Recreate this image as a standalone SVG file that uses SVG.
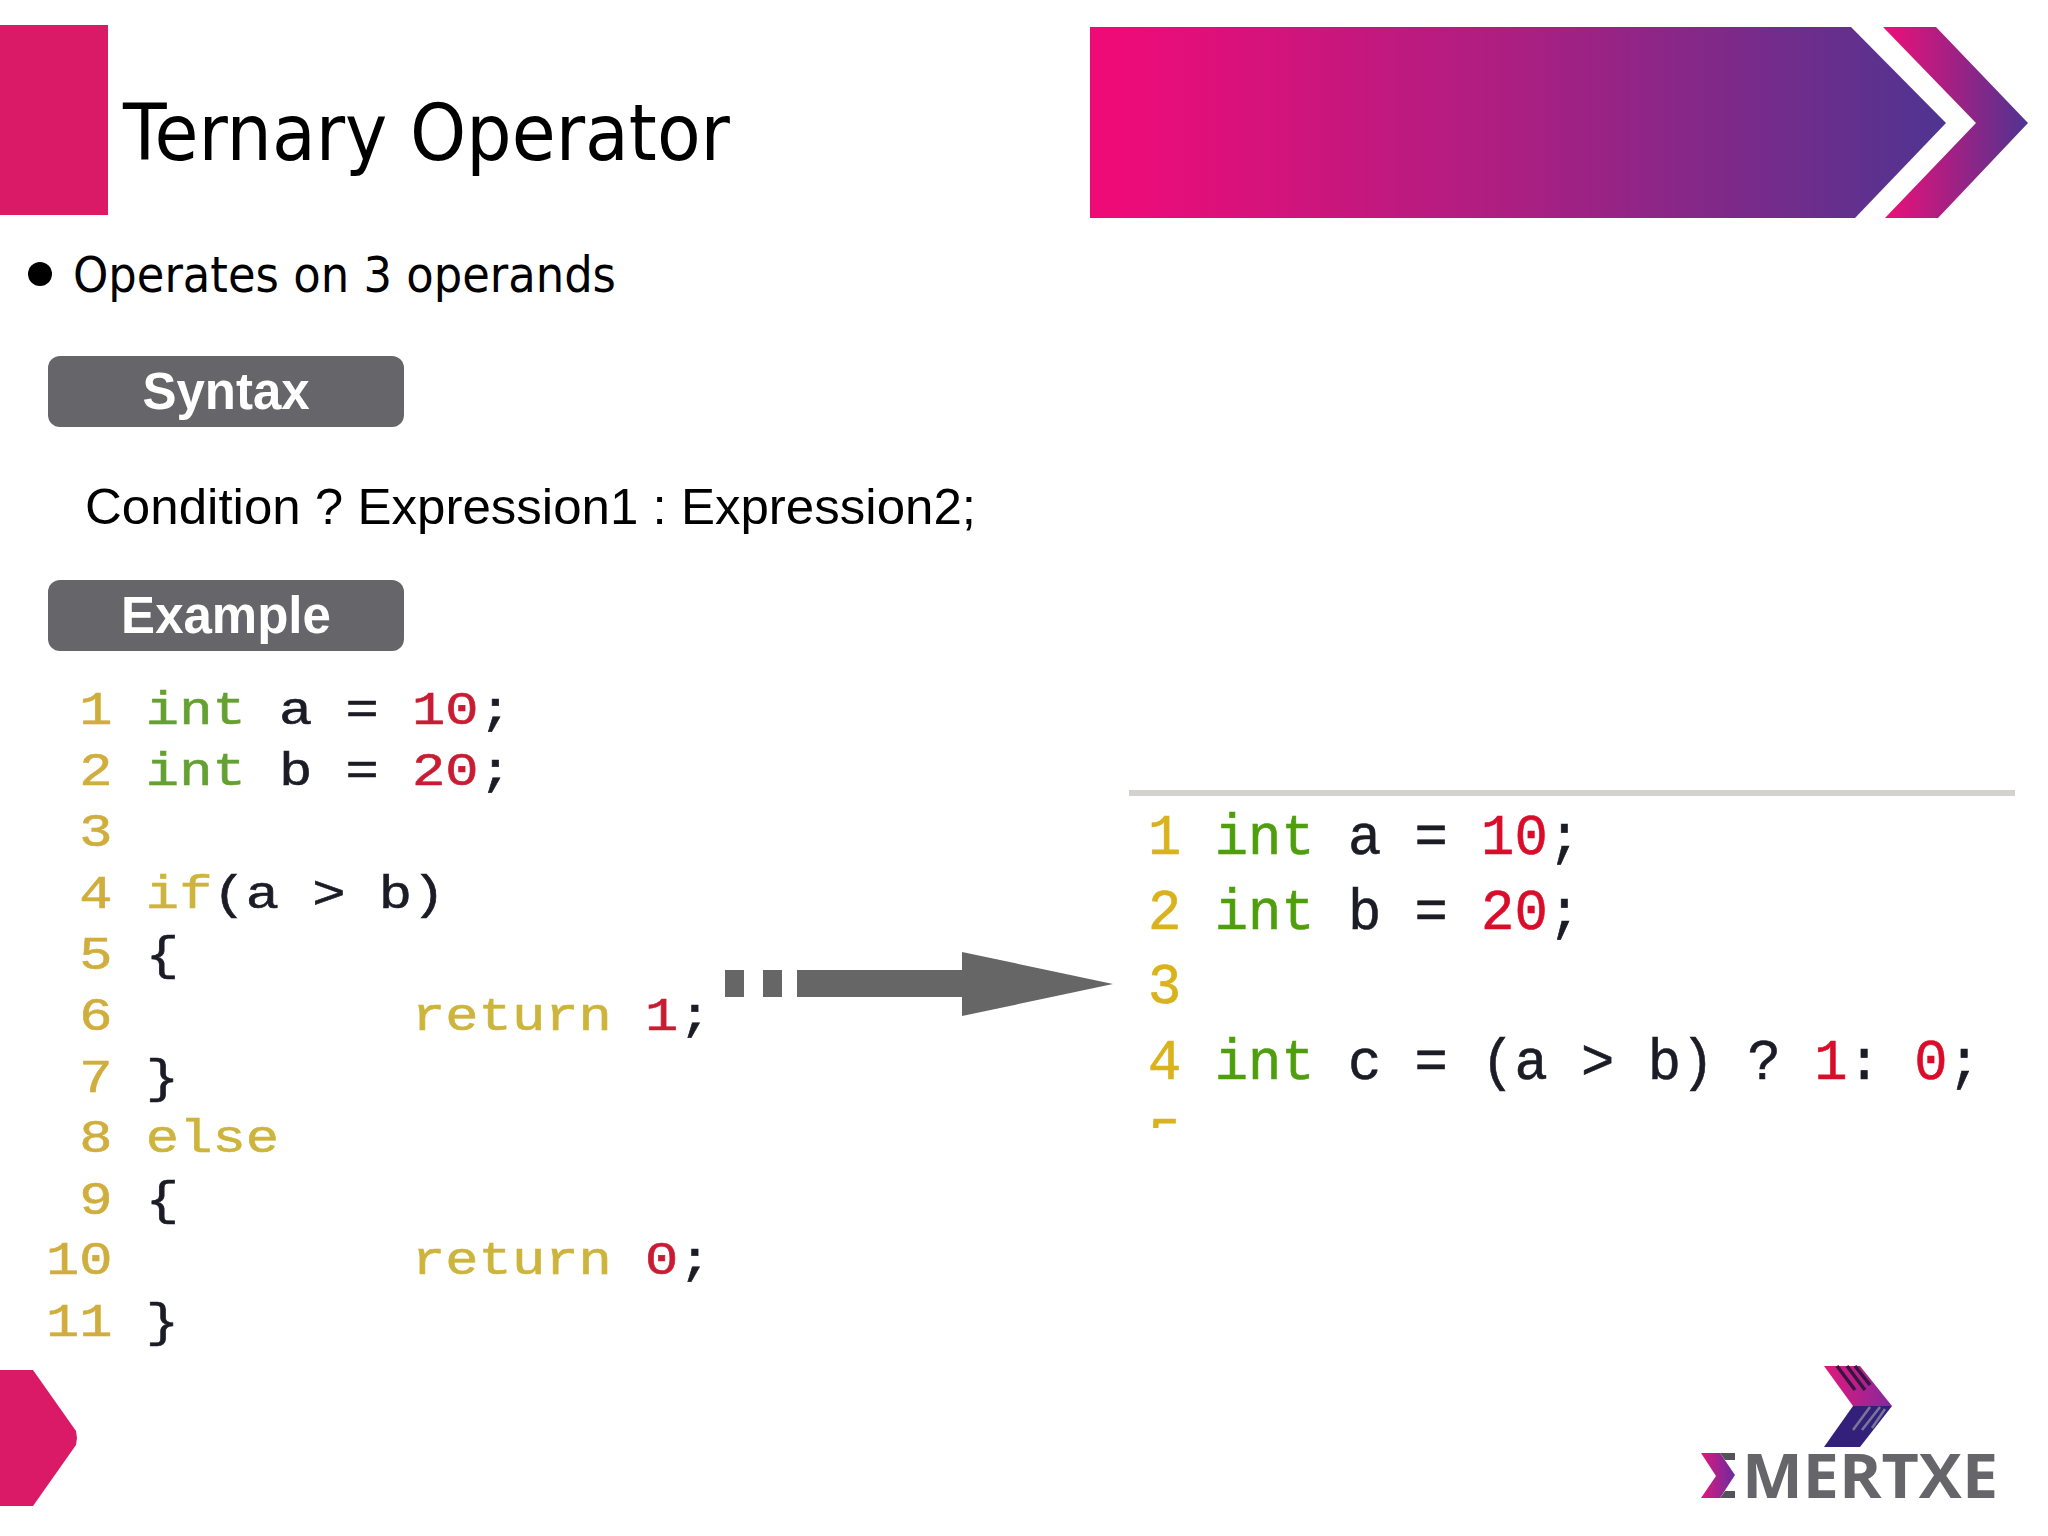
<svg xmlns="http://www.w3.org/2000/svg" width="2048" height="1536" viewBox="0 0 2048 1536">
<style>
.pink{fill:#da1a66}
.btn{fill:#666569}
.arr{fill:#666666}
.btnt{font-family:"Liberation Sans",Arial,sans-serif;font-weight:700;font-size:51px;fill:#fff;text-anchor:middle}
.head{font-family:"DejaVu Sans","Noto Sans",sans-serif;fill:#000}
.cond{font-family:"Liberation Sans",Arial,sans-serif;font-size:50px;fill:#000}
.code{font-family:"Liberation Mono","Courier New",monospace;fill:#1b1b26;white-space:pre;stroke:#1b1b26;stroke-width:.6px}
.l{font-size:46px}
.r{font-size:57px}
.n{fill:#d0ae3e;stroke:#d0ae3e}
.k{fill:#cdb43c;stroke:#cdb43c}
.g{fill:#65a032;stroke:#65a032}
.v{fill:#c81f34;stroke:#c81f34}
.rn{fill:#d9b21c;stroke:#d9b21c}
.rg{fill:#4f9e0e;stroke:#4f9e0e}
.rv{fill:#d9102c;stroke:#d9102c}
</style>
<defs>
<linearGradient id="bannerGrad" gradientUnits="userSpaceOnUse" x1="1090" y1="0" x2="1946" y2="0">
<stop offset="0.03" stop-color="#ee0b78"/><stop offset="0.5" stop-color="#ab1f82"/><stop offset="1" stop-color="#4f3491"/>
</linearGradient>
<linearGradient id="chevGrad" gradientUnits="userSpaceOnUse" x1="1883" y1="0" x2="2028" y2="0">
<stop offset="0" stop-color="#ee0f78"/><stop offset="1" stop-color="#4f3491"/>
</linearGradient>
<linearGradient id="logoTop" gradientUnits="userSpaceOnUse" x1="1824" y1="0" x2="1892" y2="0">
<stop offset="0" stop-color="#e2187c"/><stop offset="1" stop-color="#86289c"/>
</linearGradient>
<linearGradient id="sigma" gradientUnits="userSpaceOnUse" x1="1700" y1="0" x2="1735" y2="0">
<stop offset="0" stop-color="#e2187c"/><stop offset="1" stop-color="#6a2ca0"/>
</linearGradient>
<filter id="soft" x="-5%" y="-5%" width="110%" height="110%"><feGaussianBlur stdDeviation="0.7"/></filter>
<clipPath id="cut5"><rect x="1130" y="1100" width="70" height="28"/></clipPath>
</defs>
<rect width="2048" height="1536" fill="#fff"/>

<g id="title-bar"><rect class="pink" x="0" y="25" width="108" height="190"/></g>
<g id="title"><text class="head" x="123" y="160" font-size="78" textLength="607" lengthAdjust="spacingAndGlyphs">Ternary Operator</text></g>
<g id="banner">
<polygon fill="url(#bannerGrad)" points="1090,27 1851,27 1946,123 1855,218 1090,218"/>
<polygon fill="url(#chevGrad)" points="1883,27 1936,27 2028,123 1938,218 1885,218 1976,123"/>
</g>
<g id="bullet">
<ellipse cx="40" cy="274" rx="12" ry="12" fill="#000"/>
<text class="head" x="73" y="292" font-size="49" textLength="543" lengthAdjust="spacingAndGlyphs">Operates on 3 operands</text>
</g>
<g id="syntax"><rect class="btn" x="48" y="356" width="356" height="71" rx="12"/><text class="btnt" x="226" y="409">Syntax</text></g>
<g id="condition"><text class="cond" x="85" y="524" textLength="891" lengthAdjust="spacingAndGlyphs">Condition ? Expression1 : Expression2;</text></g>
<g id="example"><rect class="btn" x="48" y="580" width="356" height="71" rx="12"/><text class="btnt" x="226" y="633">Example</text></g>

<g id="code-left" filter="url(#soft)">
<text class="code l" xml:space="preserve" transform="translate(46,724) scale(1.206,1)"><tspan class="n"> 1</tspan> <tspan class="g">int</tspan> a = <tspan class="v">10</tspan>;</text>
<text class="code l" xml:space="preserve" transform="translate(46,785) scale(1.206,1)"><tspan class="n"> 2</tspan> <tspan class="g">int</tspan> b = <tspan class="v">20</tspan>;</text>
<text class="code l n" xml:space="preserve" transform="translate(46,846) scale(1.206,1)"> 3</text>
<text class="code l" xml:space="preserve" transform="translate(46,908) scale(1.206,1)"><tspan class="n"> 4</tspan> <tspan class="k">if</tspan>(a &gt; b)</text>
<text class="code l" xml:space="preserve" transform="translate(46,969) scale(1.206,1)"><tspan class="n"> 5</tspan> {</text>
<text class="code l" xml:space="preserve" transform="translate(46,1030) scale(1.206,1)"><tspan class="n"> 6</tspan>         <tspan class="k">return</tspan> <tspan class="v">1</tspan>;</text>
<text class="code l" xml:space="preserve" transform="translate(46,1092) scale(1.206,1)"><tspan class="n"> 7</tspan> }</text>
<text class="code l" xml:space="preserve" transform="translate(46,1152) scale(1.206,1)"><tspan class="n"> 8</tspan> <tspan class="k">else</tspan></text>
<text class="code l" xml:space="preserve" transform="translate(46,1214) scale(1.206,1)"><tspan class="n"> 9</tspan> {</text>
<text class="code l" xml:space="preserve" transform="translate(46,1274) scale(1.206,1)"><tspan class="n">10</tspan>         <tspan class="k">return</tspan> <tspan class="v">0</tspan>;</text>
<text class="code l" xml:space="preserve" transform="translate(46,1336) scale(1.206,1)"><tspan class="n">11</tspan> }</text>
</g>

<g id="connectors">
<g id="arrow" class="arr">
<rect x="725" y="970" width="19" height="27"/>
<rect x="763" y="970" width="19" height="27"/>
<polygon points="797,970 962,970 962,952 1113,984 962,1016 962,997 797,997"/>
</g>
</g>

<g id="code-right">
<rect x="1129" y="790" width="886" height="6" fill="#d4d2cf"/>
<g filter="url(#soft)">
<text class="code r" xml:space="preserve" transform="translate(1148,854) scale(0.974,1)"><tspan class="rn">1</tspan> <tspan class="rg">int</tspan> a = <tspan class="rv">10</tspan>;</text>
<text class="code r" xml:space="preserve" transform="translate(1148,929) scale(0.974,1)"><tspan class="rn">2</tspan> <tspan class="rg">int</tspan> b = <tspan class="rv">20</tspan>;</text>
<text class="code r rn" xml:space="preserve" transform="translate(1148,1003) scale(0.974,1)">3</text>
<text class="code r" xml:space="preserve" transform="translate(1148,1079) scale(0.974,1)"><tspan class="rn">4</tspan> <tspan class="rg">int</tspan> c = (a &gt; b) ? <tspan class="rv">1</tspan>: <tspan class="rv">0</tspan>;</text>
<g clip-path="url(#cut5)"><text class="code r rn" transform="translate(1148,1157) scale(0.974,1)">5</text></g>
</g>
</g>

<g id="footer-tab"><polygon class="pink" points="0,1370 33,1370 76,1431 77,1438 76,1445 33,1506 0,1506"/></g>

<g id="logo">
<polygon fill="url(#logoTop)" points="1824,1366 1860,1366 1892,1406 1853,1406"/>
<polygon fill="#33207a" points="1853,1406 1892,1406 1860,1447 1824,1447"/>
<g stroke="#3a1440" stroke-width="3.5" fill="none"><line x1="1837" y1="1366" x2="1855" y2="1390"/><line x1="1847" y1="1366" x2="1865" y2="1390"/><line x1="1855" y1="1366" x2="1870" y2="1385"/></g>
<g stroke="#7b7698" stroke-width="2.5" fill="none"><line x1="1853" y1="1430" x2="1870" y2="1407"/><line x1="1862" y1="1430" x2="1880" y2="1407"/><line x1="1872" y1="1428" x2="1885" y2="1409"/></g>
<polygon fill="url(#sigma)" points="1701,1453 1720,1453 1735,1475 1720,1498 1701,1498 1716,1476"/>
<polygon fill="#55535a" points="1720,1453 1735,1453 1735,1460 1725,1460"/>
<polygon fill="#55535a" points="1725,1491 1735,1491 1735,1498 1720,1498"/>
<text x="1742" y="1498" font-family="'Open Sans','Noto Sans',sans-serif" font-weight="700" font-size="61" fill="#666569" textLength="256" lengthAdjust="spacingAndGlyphs">MERTXE</text>
</g>
</svg>
